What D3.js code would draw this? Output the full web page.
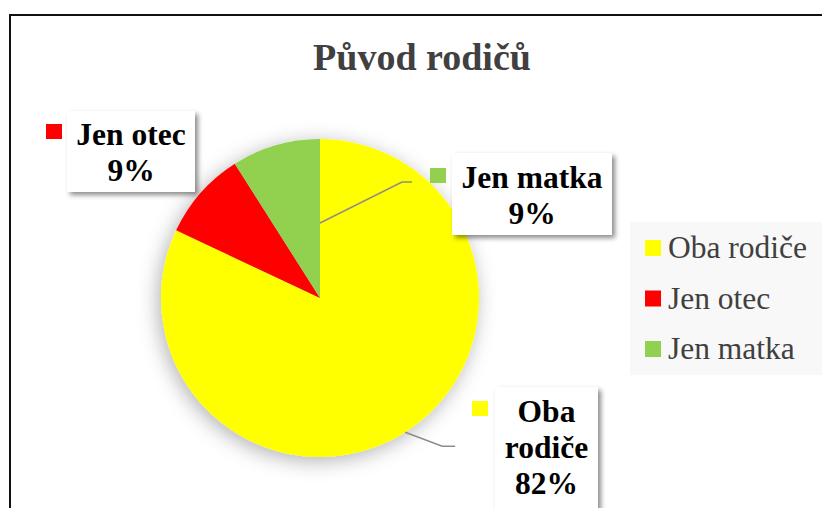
<!DOCTYPE html>
<html>
<head>
<meta charset="utf-8">
<script src="https://cdn.jsdelivr.net/npm/d3@7"></script>
<style>
  html, body { margin: 0; padding: 0; background: #fff; }
  svg { display: block; }
</style>
</head>
<body>
<svg id="chart" width="822" height="508"></svg>
<script>
// ---- data ----
const categories = ["Oba rodiče", "Jen otec", "Jen matka"];
const values = [82, 9, 9];
const percentLabels = ["82%", "9%", "9%"];
const colors = ["#FFFF00", "#FF0000", "#92D050"];
const title = "Původ rodičů";

// ---- layout ----
const W = 822, H = 508;
const cx = 320, cy = 298, R = 159;
const svg = d3.select("#chart");
const defs = svg.append("defs");

const pieShadow = defs.append("filter").attr("id", "pieShadow")
  .attr("x", "-30%").attr("y", "-30%").attr("width", "160%").attr("height", "160%");
pieShadow.append("feDropShadow").attr("dx", -3).attr("dy", 4)
  .attr("stdDeviation", 10).attr("flood-color", "#000").attr("flood-opacity", 0.3);

const boxShadow = defs.append("filter").attr("id", "boxShadow")
  .attr("x", "-20%").attr("y", "-20%").attr("width", "150%").attr("height", "150%");
boxShadow.append("feDropShadow").attr("dx", 3).attr("dy", 3)
  .attr("stdDeviation", 2.5).attr("flood-color", "#000").attr("flood-opacity", 0.45);

// chart border (top & left visible)
svg.append("path")
  .attr("d", `M10,${H + 5} L10,15 L${W + 5},15`)
  .attr("fill", "none").attr("stroke", "#111").attr("stroke-width", 2);

// title
svg.append("text")
  .attr("x", 422).attr("y", 70)
  .attr("text-anchor", "middle")
  .attr("font-family", "'Liberation Serif', 'Times New Roman', serif")
  .attr("font-weight", "bold").attr("font-size", 38)
  .attr("fill", "#404040")
  .text(title);

// pie
const pie = d3.pie().sort(null).value(d => d)(values);
const arc = d3.arc().innerRadius(0).outerRadius(R);
const color = d3.scaleOrdinal().domain(categories).range(colors);

const pg = svg.append("g").attr("transform", `translate(${cx},${cy})`);
pg.append("g").attr("filter", "url(#pieShadow)")
  .selectAll("path").data(pie).join("path")
  .attr("d", arc)
  .attr("fill", (d, i) => color(categories[i]));

// leader lines (relative to pie)
const leaderColor = "#8c8c8c";
const a0 = (pie[0].startAngle + pie[0].endAngle) / 2;
const p0 = [Math.sin(a0) * R, -Math.cos(a0) * R];
pg.append("polyline")
  .attr("points", [p0, [p0[0] + 37, p0[1] + 14], [p0[0] + 50, p0[1] + 14]].map(p => p.join(",")).join(" "))
  .attr("fill", "none").attr("stroke", leaderColor).attr("stroke-width", 1.5);
pg.append("polyline")
  .attr("points", [[0, -75], [82, -116], [92, -116]].map(p => p.join(",")).join(" "))
  .attr("fill", "none").attr("stroke", leaderColor).attr("stroke-width", 1.5);

// data labels
const labelFont = "'Liberation Serif', 'Times New Roman', serif";
const labelBoxes = [
  { x: 495, y: 387, w: 103, h: 130, lines: ["Oba", "rodiče", percentLabels[0]], key: [472, 401], base: 422 },
  { x: 67, y: 111, w: 128, h: 81, lines: ["Jen otec", percentLabels[1]], key: [46, 124], base: 145 },
  { x: 452, y: 153, w: 160, h: 82, lines: ["Jen matka", percentLabels[2]], key: [430, 168], base: 188 }
];
labelBoxes.forEach((b, i) => {
  const g = svg.append("g");
  g.append("rect").attr("x", b.x).attr("y", b.y).attr("width", b.w).attr("height", b.h)
    .attr("fill", "#fff").attr("filter", "url(#boxShadow)");
  g.append("rect").attr("x", b.key[0]).attr("y", b.key[1]).attr("width", 16).attr("height", 15)
    .attr("fill", colors[i]);
  b.lines.forEach((t, j) => {
    g.append("text")
      .attr("x", b.x + b.w / 2).attr("y", b.base + j * 36)
      .attr("text-anchor", "middle")
      .attr("font-family", labelFont).attr("font-weight", "bold").attr("font-size", 31.5)
      .attr("fill", "#000").text(t);
  });
});

// legend
const lg = svg.append("g");
lg.append("rect").attr("x", 630).attr("y", 222).attr("width", 200).attr("height", 153).attr("fill", "#f8f8f8");
const ly = d3.scalePoint().domain(categories).range([248, 349]);
categories.forEach((c, i) => {
  lg.append("rect").attr("x", 645).attr("y", ly(c) - 8).attr("width", 16).attr("height", 16).attr("fill", colors[i]);
  lg.append("text").attr("x", 668).attr("y", ly(c) + 10)
    .attr("font-family", labelFont).attr("font-size", 31.5).attr("fill", "#404040").text(c);
});
</script>
</body>
</html>
